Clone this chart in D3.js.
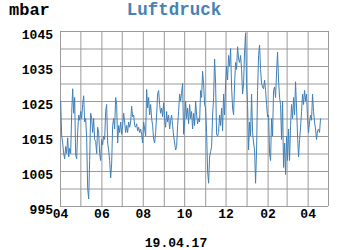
<!DOCTYPE html>
<html>
<head>
<meta charset="utf-8">
<script src="https://cdn.jsdelivr.net/npm/d3@7"></script>
<style>
  body { margin: 0; background: #fff; }
  svg { display: block; }
</style>
</head>
<body>
<div id="chart"></div>
<script>
// air pressure readings (mbar), evenly spaced between firstReading and lastReading
const pressure = [
  1025, 1015, 1013, 1010, 1008.5, 1012, 1010, 1014.5, 1009, 1011.5, 1010, 1021.5, 1028.5, 1021.5, 1026, 1009.5,
  1008.5, 1016, 1021, 1019.5, 1022, 1020, 1024, 1026.5, 1019, 1020, 1014.5, 1000, 997, 1008, 1021.5, 1020,
  1016, 1020, 1014, 1013.5, 1010, 1017.5, 1016, 1010, 1008, 1014, 1012.5, 1015,
  1014, 1022, 1024, 1013, 1011, 1008, 1003, 1007, 1018, 1020, 1017, 1026, 1024, 1013, 1018, 1016,
  1019, 1015.5, 1018, 1021.5, 1019, 1016, 1018, 1016, 1019, 1017.5, 1019, 1023.5, 1020.5, 1021, 1018, 1017.5,
  1018.5, 1016.5, 1017.5, 1016, 1017, 1015.5, 1013, 1019, 1017, 1015, 1028.3, 1023, 1026,
  1021, 1024, 1020, 1018, 1014, 1013, 1016, 1021, 1027, 1028, 1024, 1021.5, 1023, 1020.5, 1024.5, 1020,
  1017.5, 1022, 1019, 1021, 1017, 1019.5, 1021, 1018, 1015, 1013, 1011, 1012, 1018, 1022, 1027, 1025,
  1027.5, 1030, 1015.5, 1019, 1025, 1020, 1023, 1018.5, 1024, 1020, 1022, 1017, 1021.5,
  1018, 1025, 1021, 1018.5, 1020, 1019, 1028, 1026, 1033.5, 1030, 1024, 1023, 1016, 1005, 1001.5, 1009,
  1010.5, 1012, 1021, 1026, 1037, 1030, 1015.5, 1015, 1016, 1021, 1018, 1023, 1016.5, 1027, 1021, 1030,
  1035, 1031, 1038, 1035, 1040, 1029, 1023, 1021, 1030, 1036, 1034, 1040.5, 1037,
  1036, 1038, 1034, 1027, 1030, 1039, 1044.5, 1030, 1024, 1011, 1019, 1015, 1027, 1016, 1013, 1011,
  1001.5, 1011, 1028, 1038, 1041, 1034, 1030, 1029, 1028.5, 1031, 1028, 1024, 1020.5, 1021, 1010, 1008,
  1020, 1015, 1028, 1029, 1026, 1033, 1039, 1031, 1026, 1024, 1014, 1025, 1006, 1013,
  1004, 1015, 1008, 1017, 1008, 1018, 1024, 1020, 1026, 1021, 1030.5, 1023, 1015, 1009, 1014, 1017.5,
  1022, 1027, 1024, 1028, 1025, 1027, 1020, 1016, 1019, 1021, 1019.5, 1027, 1022, 1019, 1017, 1014,
  1016.5, 1017, 1016, 1020
];
const firstReading = new Date(2016, 3, 2);
const lastReading = new Date(2017, 3, 20);
const monthStart = new Date(2016, 3, 1);
const monthEnd = new Date(2017, 4, 1);
const yDomain = [995, 1045];
const yGridStep = 5;
const yLabelStep = 10;
const unitLabel = "mbar";
const chartTitle = "Luftdruck";
const dateLabel = "19.04.17";

const width = 350, height = 250;
const margin = { top: 31, right: 22, bottom: 44, left: 60 };
const monoFont = "'Liberation Mono', monospace";

const svg = d3.select("#chart").append("svg")
    .attr("width", width)
    .attr("height", height)
    .attr("viewBox", [0, 0, width, height]);

const x = d3.scaleTime()
    .domain([monthStart, monthEnd])
    .range([margin.left, width - margin.right]);
const y = d3.scaleLinear()
    .domain(yDomain)
    .range([height - margin.bottom, margin.top]);

const step = (lastReading - firstReading) / (pressure.length - 1);
const data = pressure.map((v, i) => ({ date: new Date(+firstReading + i * step), value: v }));

const months = d3.timeMonth.range(monthStart, d3.timeDay.offset(monthEnd, 1));
const fmtMonth = d3.timeFormat("%m");
const yGrid = d3.range(yDomain[0], yDomain[1] + 0.1, yGridStep);

// y axis: grid every 5, labels every 10
svg.append("g")
    .attr("transform", `translate(${margin.left},0)`)
    .call(d3.axisLeft(y)
      .tickValues(yGrid)
      .tickSize(-(width - margin.left - margin.right))
      .tickPadding(7)
      .tickFormat(d => (d - yDomain[0]) % yLabelStep === 0 ? d : ""))
    .call(g => g.select(".domain").remove())
    .call(g => g.selectAll(".tick line").attr("stroke", "#9a9a9a"))
    .call(g => g.selectAll(".tick text")
      .attr("fill", "#000")
      .attr("dy", "0.55em")
      .style("font", `bold 13px ${monoFont}`));

// x axis: monthly grid, label every other month
svg.append("g")
    .attr("transform", `translate(0,${height - margin.bottom})`)
    .call(d3.axisBottom(x)
      .tickValues(months)
      .tickSize(-(height - margin.top - margin.bottom))
      .tickPadding(3)
      .tickFormat((d, i) => i % 2 ? "" : fmtMonth(d)))
    .call(g => g.select(".domain").remove())
    .call(g => g.selectAll(".tick line").attr("stroke", "#9a9a9a"))
    .call(g => g.selectAll(".tick text")
      .attr("fill", "#000")
      .style("font", `bold 13px ${monoFont}`));

// pressure line
svg.append("path")
    .datum(data)
    .attr("fill", "none")
    .attr("stroke", "#4080b8")
    .attr("stroke-width", 1)
    .attr("d", d3.line().x(d => x(d.date)).y(d => y(d.value)));

svg.append("text")
    .attr("x", 9)
    .attr("y", 15)
    .style("font", `bold 17px ${monoFont}`)
    .text(unitLabel);

svg.append("text")
    .attr("x", 174)
    .attr("y", 15)
    .attr("text-anchor", "middle")
    .attr("fill", "#4682b4")
    .style("font", `bold 17.5px ${monoFont}`)
    .text(chartTitle);

svg.append("text")
    .attr("x", 176)
    .attr("y", 247)
    .attr("text-anchor", "middle")
    .style("font", `bold 13px ${monoFont}`)
    .text(dateLabel);
</script>
</body>
</html>
